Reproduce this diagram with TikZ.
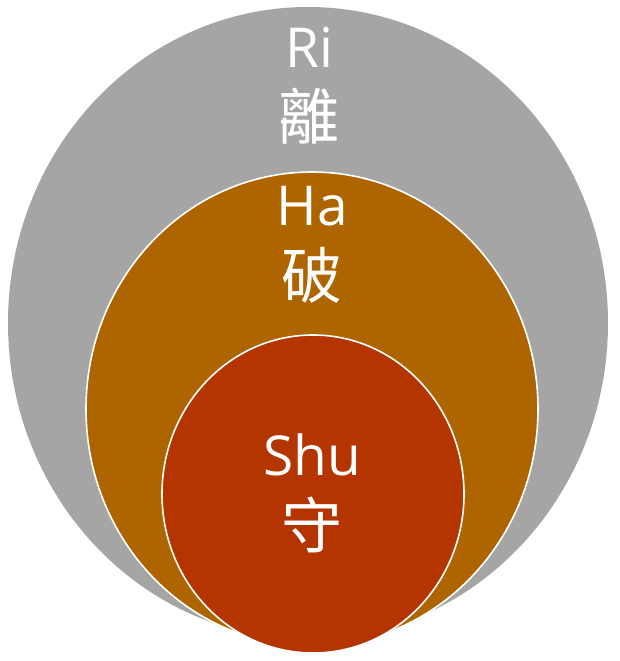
\documentclass[tikz,border=0pt]{standalone}
\usepackage{fontspec}
\newfontfamily\latinfont{Open Sans}
\newfontfamily\cjkfont{Noto Sans CJK TC}
\definecolor{riGray}{HTML}{A5A5A5}
\definecolor{haOrange}{HTML}{AE6500}
\definecolor{shuRed}{HTML}{B43500}
\tikzset{
  ring/.style={draw=white, line width=1.6pt},
  latinlbl/.style={text=white, inner sep=0pt, anchor=base, font=\latinfont\fontsize{55}{60}\selectfont},
  kanjilbl/.style={text=white, inner sep=0pt, anchor=center, font=\cjkfont\fontsize{61}{66}\selectfont}
}
\begin{document}
\begin{tikzpicture}[x=1pt,y=-1pt]
\useasboundingbox (0,0) rectangle (620,661);
\fill[riGray] (308,323) ellipse [x radius=300, y radius=316];
\filldraw[haOrange, ring] (312,409) ellipse [x radius=226, y radius=237];
\filldraw[shuRed, ring] (313,494) ellipse [x radius=151, y radius=159];
\node[latinlbl] (ri) at (309,67) {Ri};
\node[kanjilbl] (rik) at (309,116.5) {離};
\node[latinlbl] (ha) at (312,225) {Ha};
\node[kanjilbl] (hak) at (312,275.5) {破};
\node[latinlbl] (shu) at (312,475) {Shu};
\node[kanjilbl] (shuk) at (312,525) {守};
\end{tikzpicture}
\end{document}
